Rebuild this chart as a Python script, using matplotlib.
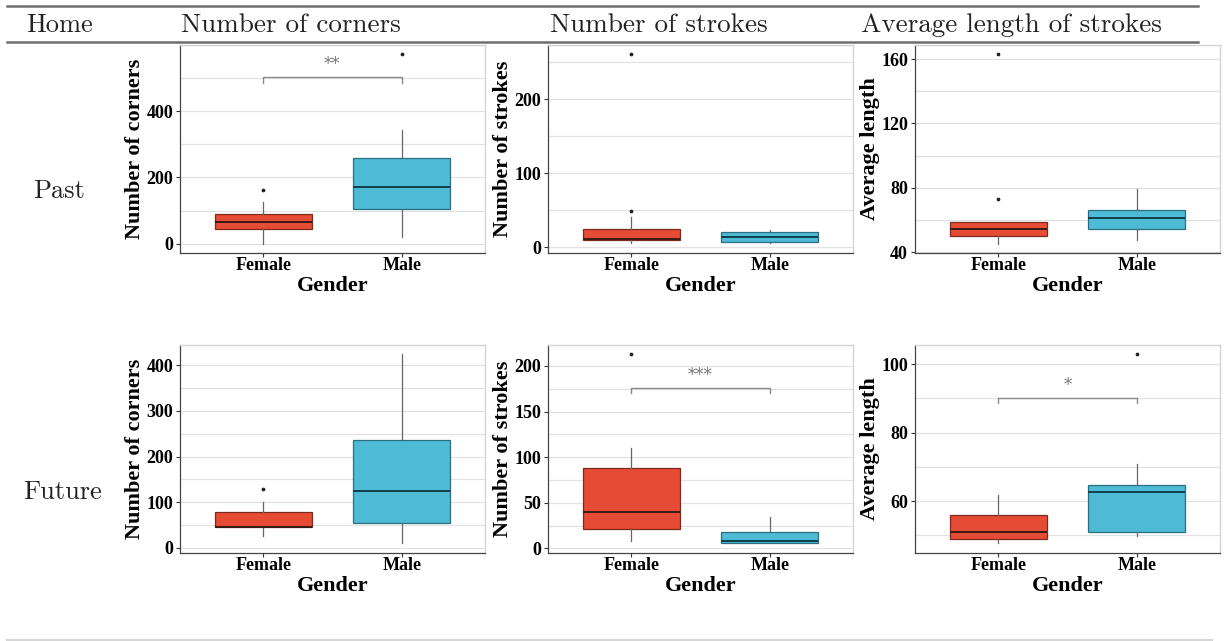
import matplotlib
matplotlib.use("Agg")
import matplotlib.pyplot as plt
from matplotlib.lines import Line2D

W, H = 1224, 641

genders = ["Female", "Male"]
fill_colors = ["#E64B35", "#4DBBD5"]
edge_colors = ["#7E2A1C", "#2A6E80"]

col_titles = ["Number of corners", "Number of strokes", "Average length of strokes"]
row_titles = ["Past", "Future"]
y_labels = ["Number of corners", "Number of strokes", "Average length"]

# five-number summaries per gender: [lower whisker, q1, median, q3, upper whisker]
past_corners = [[0, 44, 67, 90, 125], [20, 105, 170, 259, 344]]
past_corners_out = [[161], [573]]
past_strokes = [[5, 9.5, 11, 24, 41], [6, 7, 14, 20, 23]]
past_strokes_out = [[48.6, 261], []]
past_length = [[45.2, 50.1, 54.3, 58.8, 58.8], [47.2, 54.5, 61.1, 66.1, 79.3]]
past_length_out = [[72.7, 163], []]

future_corners = [[26, 44.6, 44.6, 77.5, 99.5], [10, 53.4, 125, 237, 425]]
future_corners_out = [[128.7], []]
future_strokes = [[8.4, 21.2, 40.1, 88, 110], [6.2, 6.2, 8.4, 17.9, 34]]
future_strokes_out = [[213], []]
future_length = [[47.7, 49.0, 50.9, 56.0, 61.7], [49.7, 51.0, 62.6, 64.6, 70.8]]
future_length_out = [[], [103]]

# axis ranges and ticks per panel
y_limits = [[(-28, 600), (-8, 273), (39.4, 168.8)],
            [(-12, 445), (-5, 223), (44.8, 105.6)]]
major_ticks = [[[0, 200, 400], [0, 100, 200], [40, 80, 120, 160]],
               [[0, 100, 200, 300, 400], [0, 50, 100, 150, 200], [60, 80, 100]]]
minor_ticks = [[[100, 300, 500], [50, 150, 250], [60, 100, 140]],
               [[50, 150, 250, 350], [25, 75, 125, 175], [50, 70, 90]]]

# significance brackets: (row, col) -> (bar height, tip height, label)
signif = {(0, 0): (502, 486, "**"),
          (1, 1): (175.5, 170, "***"),
          (1, 2): (90.0, 88.6, "*")}

boxes = [[past_corners, past_strokes, past_length],
         [future_corners, future_strokes, future_length]]
outliers = [[past_corners_out, past_strokes_out, past_length_out],
            [future_corners_out, future_strokes_out, future_length_out]]

serif_bold = {"family": "Liberation Serif", "weight": "bold"}
cm_font = "cmr10"

fig = plt.figure(figsize=(W / 100, H / 100), dpi=100)

col_left = [180, 548, 915]
col_width = 305
row_top = [45, 345]
row_height = 208


def px_rect(left, top, width, height):
    return [left / W, 1 - (top + height) / H, width / W, height / H]


for r in range(2):
    for c in range(3):
        ax = fig.add_axes(px_rect(col_left[c], row_top[r], col_width, row_height))
        stats = []
        for g in range(2):
            lo, q1, med, q3, hi = boxes[r][c][g]
            stats.append({"whislo": lo, "q1": q1, "med": med, "q3": q3,
                          "whishi": hi, "fliers": outliers[r][c][g]})
        art = ax.bxp(stats, positions=[1, 2], widths=0.7, patch_artist=True,
                     showcaps=False,
                     whiskerprops={"color": "#666666", "linewidth": 0.9},
                     flierprops={"marker": "o", "markersize": 1.7,
                                 "markerfacecolor": "#222222",
                                 "markeredgecolor": "#222222"},
                     zorder=3)
        for g in range(2):
            art["boxes"][g].set_facecolor(fill_colors[g])
            art["boxes"][g].set_edgecolor(edge_colors[g])
            art["boxes"][g].set_linewidth(0.9)
            art["medians"][g].set_color("#3a1a14" if g == 0 else "#123f4c")
            art["medians"][g].set_linewidth(1.4)

        ax.set_xlim(0.4, 2.6)
        ax.set_ylim(*y_limits[r][c])
        ax.set_yticks(major_ticks[r][c])
        ax.set_yticks(minor_ticks[r][c], minor=True)
        ax.set_xticks([1, 2])
        ax.set_xticklabels(genders, fontdict={**serif_bold, "size": 13})
        for lab in ax.get_yticklabels():
            lab.set_fontfamily("Liberation Serif")
            lab.set_fontweight("bold")
            lab.set_fontsize(13)
        ax.tick_params(axis="y", which="major", length=3, width=0.8,
                       color="#333333", pad=2)
        ax.tick_params(axis="y", which="minor", length=0)
        ax.tick_params(axis="x", length=3, width=0.8, color="#333333", pad=0)
        ax.grid(True, which="both", axis="y", color="#E2E2E2", linewidth=0.9, zorder=0)
        ax.set_axisbelow(True)

        for side in ("top", "right"):
            ax.spines[side].set_color("#D4D4D4")
            ax.spines[side].set_linewidth(1.0)
        for side in ("left", "bottom"):
            ax.spines[side].set_color("#444444")
            ax.spines[side].set_linewidth(0.9)

        ax.set_xlabel("Gender", fontdict={**serif_bold, "size": 16}, labelpad=1)
        ax.set_ylabel(y_labels[c], fontdict={**serif_bold, "size": 16}, labelpad=1)

        if (r, c) in signif:
            bar, tip, stars = signif[(r, c)]
            ax.plot([1, 1, 2, 2], [tip, bar, bar, tip], color="#8a8a8a",
                    linewidth=1.0, zorder=2)
            ax.annotate(stars, xy=(1.5, bar), xytext=(0, 3), textcoords="offset points",
                        ha="center", va="bottom", color="#7a7a7a",
                        fontsize=12, family="DejaVu Serif")

# table rules and headings
for y_px, color, lw in [(5.7, "#6f6f6f", 1.8), (41.6, "#6f6f6f", 1.8), (640, "#d6d6d6", 1.5)]:
    x_end = 1198 if y_px < 100 else 1212
    fig.add_artist(Line2D([7 / W, x_end / W], [1 - y_px / H] * 2,
                          color=color, linewidth=lw))

header_x = [181, 550, 861]
fig.text(26 / W, 1 - 32 / H, "Home", family=cm_font, fontsize=19,
         ha="left", va="baseline", color="#222222")
for x_px, title in zip(header_x, col_titles):
    fig.text(x_px / W, 1 - 32 / H, title, family=cm_font, fontsize=19.5,
             ha="left", va="baseline", color="#222222")

fig.text(33 / W, 1 - 198 / H, row_titles[0], family=cm_font, fontsize=19,
         ha="left", va="baseline", color="#222222")
fig.text(23 / W, 1 - 499 / H, row_titles[1], family=cm_font, fontsize=19,
         ha="left", va="baseline", color="#222222")

fig.savefig("out.png", dpi=100)
